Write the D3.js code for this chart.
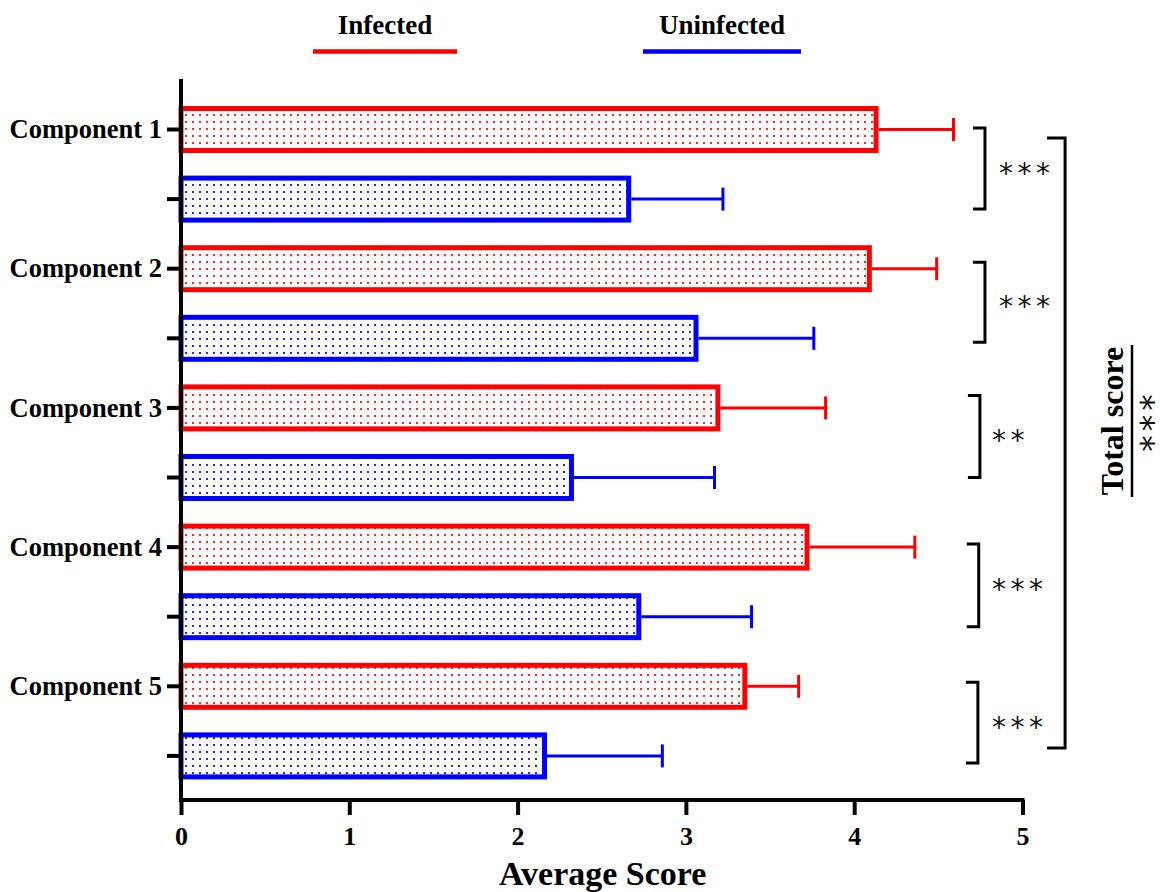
<!DOCTYPE html>
<html>
<head>
<meta charset="utf-8">
<script src="https://cdn.jsdelivr.net/npm/d3@7"></script>
<style>
  html, body { margin: 0; padding: 0; background: #fff; }
  svg { display: block; }
</style>
</head>
<body>
<svg id="chart" width="1160" height="892"></svg>
<script>
// ---------------- data ----------------
const categories = ["Component 1", "Component 2", "Component 3", "Component 4", "Component 5"];
const seriesNames = ["Infected", "Uninfected"];
const infected = [4.13, 4.09, 3.19, 3.72, 3.35];
const infectedSD = [0.46, 0.40, 0.64, 0.64, 0.32];
const uninfected = [2.66, 3.06, 2.32, 2.72, 2.16];
const uninfectedSD = [0.56, 0.70, 0.85, 0.67, 0.70];
const significance = ["***", "***", "**", "***", "***"];
const totalSignificance = "***";
const totalLabel = "Total score";
const xTicks = [0, 1, 2, 3, 4, 5];
const xTitle = "Average Score";

// ---------------- layout ----------------
const RED = "#ff0000", BLUE = "#0000ff";
const SERIF = "'Liberation Serif', 'Times New Roman', serif";
const STARFONT = "'DejaVu Sans', 'Liberation Sans', sans-serif";
const svg = d3.select("#chart");

const x = d3.scaleLinear().domain([0, 5]).range([181, 1022.5]);

const rows = [];
categories.forEach((c, i) => {
  rows.push({ key: c + "|inf", cat: c, i, series: 0, value: infected[i], sd: infectedSD[i] });
  rows.push({ key: c + "|un", cat: c, i, series: 1, value: uninfected[i], sd: uninfectedSD[i] });
});

const y = d3.scaleBand()
  .domain(rows.map(r => r.key))
  .range([94.7, 790.7])
  .paddingInner(0.397)
  .paddingOuter(0.1985);

const colors = [RED, BLUE];

// patterns
const defs = svg.append("defs");
colors.forEach((col, k) => {
  const p = defs.append("pattern")
    .attr("id", "dots" + k)
    .attr("patternUnits", "userSpaceOnUse")
    .attr("width", 7).attr("height", 7);
  p.append("rect").attr("width", 7).attr("height", 7).attr("fill", "#fff");
  p.append("rect").attr("x", 3).attr("y", 2).attr("width", 2).attr("height", 2)
    .attr("fill", col).attr("opacity", 0.85);
});

// bars
svg.append("g").selectAll("rect.bar").data(rows).join("rect")
  .attr("class", "bar")
  .attr("x", x(0))
  .attr("y", d => y(d.key))
  .attr("width", d => x(d.value) - x(0))
  .attr("height", y.bandwidth())
  .attr("fill", d => `url(#dots${d.series})`)
  .attr("stroke", d => colors[d.series])
  .attr("stroke-width", 5);

// error bars
const eg = svg.append("g");
rows.forEach(d => {
  const cy = y(d.key) + y.bandwidth() / 2;
  eg.append("line")
    .attr("x1", x(d.value) + 2.5).attr("x2", x(d.value + d.sd))
    .attr("y1", cy).attr("y2", cy)
    .attr("stroke", colors[d.series]).attr("stroke-width", 3);
  eg.append("line")
    .attr("x1", x(d.value + d.sd)).attr("x2", x(d.value + d.sd))
    .attr("y1", cy - 11.5).attr("y2", cy + 11.5)
    .attr("stroke", colors[d.series]).attr("stroke-width", 3);
});

// y axis
const yAxis = d3.axisLeft(y)
  .tickSize(14)
  .tickFormat(k => k.endsWith("|inf") ? k.split("|")[0] : "");
const gy = svg.append("g").attr("transform", `translate(${x(0)},0)`).call(yAxis);
gy.select(".domain").remove();
gy.selectAll(".tick line").attr("stroke", "#000").attr("stroke-width", 4);
gy.selectAll(".tick text")
  .attr("x", -19)
  .attr("dy", "0.33em")
  .style("font-family", SERIF)
  .style("font-weight", "bold")
  .style("font-size", "26.5px")
  .attr("fill", "#000");
svg.append("line")
  .attr("x1", x(0)).attr("x2", x(0))
  .attr("y1", 79).attr("y2", 802)
  .attr("stroke", "#000").attr("stroke-width", 4);

// x axis
const xAxisY = 800;
const xAxis = d3.axisBottom(x).tickValues(xTicks).tickSize(15).tickFormat(d3.format("d"));
const gx = svg.append("g").attr("transform", `translate(0,${xAxisY})`).call(xAxis);
gx.select(".domain").remove();
gx.selectAll(".tick line").attr("stroke", "#000").attr("stroke-width", 4);
gx.selectAll(".tick text")
  .attr("y", 45).attr("dy", 0)
  .style("font-family", SERIF)
  .style("font-weight", "bold")
  .style("font-size", "26px")
  .attr("fill", "#000");
svg.append("line")
  .attr("x1", x(0) - 2).attr("x2", x(5) + 2)
  .attr("y1", xAxisY).attr("y2", xAxisY)
  .attr("stroke", "#000").attr("stroke-width", 4);

svg.append("text")
  .attr("x", (x(0) + x(5)) / 2 + 1).attr("y", 885)
  .attr("text-anchor", "middle")
  .style("font-family", SERIF)
  .style("font-weight", "bold")
  .style("font-size", "34px")
  .text(xTitle);

// legend
const legendCenters = [385, 722];
const legendHalf = [72, 79];
seriesNames.forEach((name, k) => {
  svg.append("text")
    .attr("x", legendCenters[k]).attr("y", 34)
    .attr("text-anchor", "middle")
    .style("font-family", SERIF)
    .style("font-weight", "bold")
    .style("font-size", "27px")
    .text(name);
  svg.append("line")
    .attr("x1", legendCenters[k] - legendHalf[k]).attr("x2", legendCenters[k] + legendHalf[k])
    .attr("y1", 51.5).attr("y2", 51.5)
    .attr("stroke", colors[k]).attr("stroke-width", 4.5);
});

// significance brackets
const bracketX = [4.777, 4.777, 4.747, 4.74, 4.735];
const bracketOffsets = [[-1.5, 10], [-6.5, 4], [-12.5, 0], [-3, 10], [-4, 7]];
const starX = [999, 999, 992, 992, 992];
const bg = svg.append("g");
categories.forEach((c, i) => {
  const top = y(c + "|inf") + y.bandwidth() / 2 + bracketOffsets[i][0];
  const bot = y(c + "|un") + y.bandwidth() / 2 + bracketOffsets[i][1];
  const xr = x(bracketX[i]);
  bg.append("path")
    .attr("d", `M${xr - 12},${top} H${xr} V${bot} H${xr - 12}`)
    .attr("fill", "none").attr("stroke", "#000").attr("stroke-width", 3);
  bg.append("text")
    .attr("x", starX[i]).attr("y", (top + bot) / 2 + 14)
    .style("font-family", STARFONT)
    .style("font-size", "28px")
    .attr("letter-spacing", 4.5)
    .attr("fill", "#111")
    .text(significance[i]);
});

// total bracket
const totTop = y(categories[0] + "|inf") + y.bandwidth() / 2 + 8.5;
const totBot = y(categories[4] + "|un") + y.bandwidth() / 2 - 8;
const xt = x(5.253);
bg.append("path")
  .attr("d", `M${xt - 18},${totTop} H${xt} V${totBot} H${xt - 18}`)
  .attr("fill", "none").attr("stroke", "#000").attr("stroke-width", 3);

const midY = 421;
svg.append("text")
  .attr("transform", `translate(1123,${midY}) rotate(-90)`)
  .attr("text-anchor", "middle")
  .style("font-family", SERIF)
  .style("font-weight", "bold")
  .style("font-size", "32px")
  .text(totalLabel);
svg.append("line")
  .attr("x1", 1132).attr("x2", 1132)
  .attr("y1", 345).attr("y2", 497)
  .attr("stroke", "#000").attr("stroke-width", 2.5);
svg.append("text")
  .attr("transform", `translate(1130,${midY + 4}) rotate(90)`)
  .attr("text-anchor", "middle")
  .style("font-family", STARFONT)
  .style("font-size", "33px")
  .attr("letter-spacing", 4)
  .attr("fill", "#111")
  .text(totalSignificance);
</script>
</body>
</html>
